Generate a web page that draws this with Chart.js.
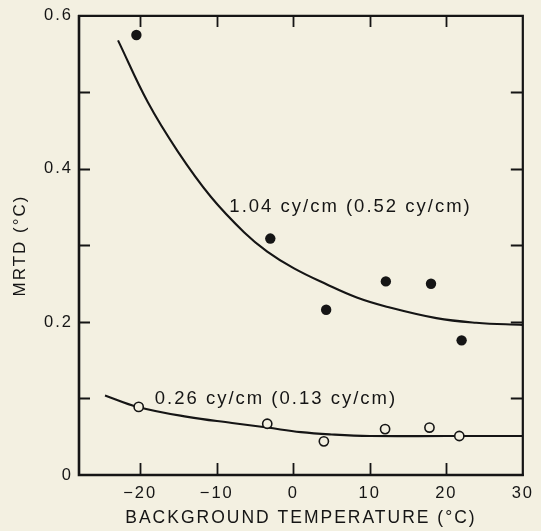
<!DOCTYPE html>
<html><head><meta charset="utf-8">
<script src="https://cdn.jsdelivr.net/npm/chart.js@4"></script>
<style>html,body{margin:0;padding:0;background:#f3f0e1;} #wrap{width:541px;height:531px;}</style>
</head><body><div id="wrap"><canvas id="c" width="541" height="531"></canvas></div>
<script>
// ---- data ----
const filledX = [-20.5, -3.0, 4.3, 12.1, 18.0, 22.0];
const filledY = [0.575, 0.309, 0.216, 0.253, 0.250, 0.176];
const openX = [-20.2, -3.4, 4.0, 12.0, 17.8, 21.7];
const openY = [0.089, 0.067, 0.044, 0.060, 0.062, 0.051];
const upperCurveX = [-22.9, -19.0, -15.1, -10.8, -6.4, -3.4, 0.1, 4.4, 8.3, 12.2, 18.7, 23.9, 30];
const upperCurveY = [0.568, 0.487, 0.423, 0.364, 0.317, 0.292, 0.270, 0.249, 0.232, 0.220, 0.205, 0.199, 0.196];
const lowerCurveX = [-24.6, -20.3, -13.8, -8, -3.4, 1, 5, 10, 20, 30];
const lowerCurveY = [0.104, 0.089, 0.076, 0.068, 0.062, 0.056, 0.053, 0.051, 0.051, 0.051];
const xTickValues = [-20, -10, 0, 10, 20, 30];
const yTickValues = [0, 0.2, 0.4, 0.6];
const yMinorTickValues = [0.1, 0.2, 0.3, 0.4, 0.5];
const xInnerTickValues = [-20, -10, 0, 10, 20];
const curveLabels = ['1.04 cy/cm (0.52 cy/cm)', '0.26 cy/cm (0.13 cy/cm)'];
const curveLabelX = [-8.35, -18.1];
const curveLabelY = [0.35, 0.10];
const xTitle = 'BACKGROUND TEMPERATURE (°C)';
const yTitle = 'MRTD (°C)';

const BG = '#f3f0e1';
const INK = '#151515';
const FONT = '"Liberation Sans", Arial, Helvetica, sans-serif';

const pts = (xs, ys) => xs.map((x, i) => ({x, y: ys[i]}));

const framePlugin = {
  id: 'frame',
  beforeDraw(chart) {
    const ctx = chart.ctx;
    ctx.save();
    ctx.fillStyle = BG;
    ctx.fillRect(0, 0, chart.width, chart.height);
    ctx.restore();
    ctx.letterSpacing = '2px';
  },
  afterDatasetsDraw(chart) {
    const ctx = chart.ctx;
    const {left, right, top, bottom} = chart.chartArea;
    const xs = chart.scales.x, ys = chart.scales.y;
    ctx.save();
    ctx.strokeStyle = INK;
    ctx.lineCap = 'butt';
    ctx.lineWidth = 2.6;
    ctx.beginPath();
    ctx.moveTo(left, top - 1); ctx.lineTo(left, bottom); ctx.lineTo(right + 1, bottom);
    ctx.stroke();
    ctx.lineWidth = 2.2;
    ctx.beginPath();
    ctx.moveTo(left - 1, top); ctx.lineTo(right, top); ctx.lineTo(right, bottom + 1);
    ctx.stroke();
    ctx.lineWidth = 1.8;
    ctx.beginPath();
    xInnerTickValues.forEach(v => {
      const p = Math.round(xs.getPixelForValue(v)) + 0.5;
      ctx.moveTo(p, bottom); ctx.lineTo(p, bottom - 12);
      ctx.moveTo(p, top); ctx.lineTo(p, top + 11);
    });
    yMinorTickValues.forEach(v => {
      const p = Math.round(ys.getPixelForValue(v)) + 0.5;
      ctx.moveTo(left, p); ctx.lineTo(left + 11, p);
      ctx.moveTo(right, p); ctx.lineTo(right - 12, p);
    });
    ctx.stroke();
    ctx.fillStyle = INK;
    ctx.font = '18.5px ' + FONT;
    ctx.textAlign = 'left';
    ctx.textBaseline = 'middle';
    curveLabels.forEach((t, i) => {
      ctx.fillText(t, xs.getPixelForValue(curveLabelX[i]), ys.getPixelForValue(curveLabelY[i]));
    });
    ctx.restore();
  }
};

new Chart(document.getElementById('c'), {
  type: 'scatter',
  data: {
    datasets: [
      {data: pts(filledX, filledY), pointRadius: 5.2, pointBackgroundColor: INK, pointBorderColor: INK, pointBorderWidth: 0, order: 0},
      {data: pts(openX, openY), pointRadius: 4.6, pointBackgroundColor: BG, pointBorderColor: INK, pointBorderWidth: 1.6, order: 0},
      {data: pts(upperCurveX, upperCurveY), showLine: true, pointRadius: 0, borderColor: INK, borderWidth: 2.1, tension: 0.4, order: 1},
      {data: pts(lowerCurveX, lowerCurveY), showLine: true, pointRadius: 0, borderColor: INK, borderWidth: 2.1, tension: 0.4, order: 1}
    ]
  },
  options: {
    responsive: false,
    devicePixelRatio: 1,
    animation: false,
    events: [],
    layout: {padding: {top: 15, right: 14, left: 0, bottom: 0}},
    plugins: {legend: {display: false}, tooltip: {enabled: false}},
    scales: {
      x: {
        type: 'linear', min: -28, max: 30,
        grid: {display: false, drawTicks: false},
        border: {display: false},
        afterBuildTicks: s => { s.ticks = xTickValues.map(v => ({value: v})); },
        afterFit: s => { s.height = 56; },
        ticks: {
          color: INK, padding: 9, maxRotation: 0, autoSkip: false,
          font: {family: FONT, size: 16.5},
          callback: v => v < 0 ? '\u2212' + Math.abs(v) : String(v)
        },
        title: {display: true, text: xTitle, color: INK, font: {family: FONT, size: 17.5}, padding: {top: 0, bottom: 2}}
      },
      y: {
        type: 'linear', min: 0, max: 0.6,
        grid: {display: false, drawTicks: false},
        border: {display: false},
        afterBuildTicks: s => { s.ticks = yTickValues.map(v => ({value: v})); },
        afterFit: s => { s.width = 79; },
        ticks: {
          color: INK, padding: 6,
          font: {family: FONT, size: 16.5},
          callback: v => v === 0 ? '0' : v.toFixed(1)
        },
        title: {display: true, text: yTitle, color: INK, font: {family: FONT, size: 17}, padding: {top: 10, bottom: 0}}
      }
    }
  },
  plugins: [framePlugin]
});
</script>
</body></html>
